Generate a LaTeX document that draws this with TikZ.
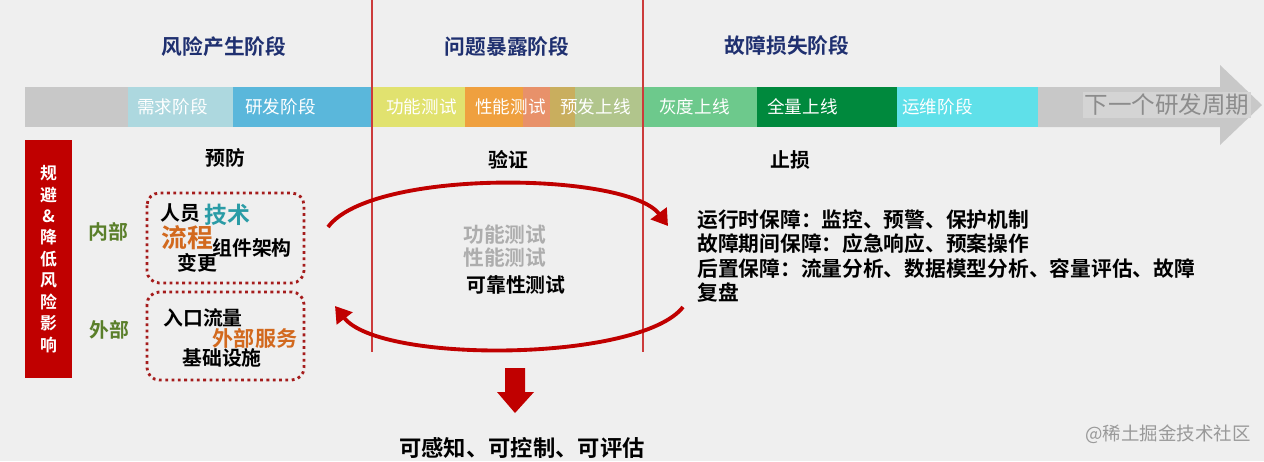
\documentclass[tikz,border=0pt]{standalone}
\usepackage{fontspec}
\setmainfont{Noto Sans CJK SC}[BoldFont={Noto Sans CJK SC Bold}]
\usetikzlibrary{arrows.meta}

\definecolor{bggray}{HTML}{EFEFEF}
\definecolor{bandgray}{HTML}{C8C8C8}
\definecolor{reqblue}{HTML}{ADD8DF}
\definecolor{devblue}{HTML}{5AB7DB}
\definecolor{funcyellow}{HTML}{E1E26F}
\definecolor{perforange}{HTML}{EFA03F}
\definecolor{perfpink}{HTML}{E8916A}
\definecolor{preolive}{HTML}{C9AE5E}
\definecolor{pregreen}{HTML}{B1C58C}
\definecolor{graygreen}{HTML}{6DC98C}
\definecolor{fullgreen}{HTML}{00893D}
\definecolor{opscyan}{HTML}{5FE0E9}
\definecolor{linered}{HTML}{CC3B3B}
\definecolor{barred}{HTML}{C00000}
\definecolor{boxred}{HTML}{A51C1C}
\definecolor{innergreen}{HTML}{5A7F2A}
\definecolor{techteal}{HTML}{2A9CA6}
\definecolor{floworange}{HTML}{D2691E}
\definecolor{phasenavy}{HTML}{1F3070}

\begin{document}
\begin{tikzpicture}[x=0.02cm,y=-0.02cm,
    phase/.style ={font=\fontsize{11.8}{14}\selectfont\bfseries, text=phasenavy},
    stagetext/.style ={font=\fontsize{10}{12}\selectfont, text=white, anchor=west, inner sep=0pt},
    goal/.style ={font=\fontsize{11.3}{13}\selectfont\bfseries},
    side/.style ={font=\fontsize{11.3}{13}\selectfont\bfseries, text=innergreen},
    item/.style ={font=\fontsize{11.3}{13}\selectfont\bfseries, inner sep=0pt},
    riskbox/.style ={draw=boxred, dotted, line width=1.6pt, rounded corners=7pt},
    cyclearrow/.style ={draw=barred, line width=2.2pt, -{Triangle[length=9pt,width=11pt]}}]
   \fill[bggray] (0,0) rectangle (1264,461);
   \useasboundingbox (0,0) rectangle (1264,461);

   \node[phase] (risk) at (224,47) {风险产生阶段};
   \node[phase] (expose) at (507,47) {问题暴露阶段};
   \node[phase] (loss) at (787,46) {故障损失阶段};

   \fill[bandgray] (25,87) rectangle (128,127);
   \fill[reqblue] (128,87) rectangle (233,127);
   \fill[devblue] (233,87) rectangle (372,127);
   \fill[funcyellow] (372,87) rectangle (465,127);
   \fill[perforange] (465,87) rectangle (523,127);
   \fill[perfpink] (523,87) rectangle (550,127);
   \fill[preolive] (550,87) rectangle (575,127);
   \fill[pregreen] (575,87) rectangle (644,127);
   \fill[graygreen] (644,87) rectangle (757,127);
   \fill[fullgreen] (757,87) rectangle (897,127);
   \fill[opscyan] (897,87) rectangle (1038,127);
   \fill[bandgray] (1038,87) -- (1220,87) -- (1220,65) -- (1262,105)
      -- (1220,145) -- (1220,127) -- (1038,127) -- cycle;

   \node[stagetext] (req) at (137,107) {需求阶段};
   \node[stagetext] (dev) at (245,107) {研发阶段};
   \node[stagetext] (func) at (386,107) {功能测试};
   \node[stagetext] (perf) at (475,107) {性能测试};
   \node[stagetext] (pre) at (560,107) {预发上线};
   \node[stagetext] (gray) at (659,107) {灰度上线};
   \node[stagetext] (full) at (767,107) {全量上线};
   \node[stagetext] (ops) at (902,107) {运维阶段};
   \node[fill=black!17, text=black!45, inner sep=1pt,
      font=\fontsize{13.4}{15}\selectfont] (next) at (1167,105) {下一个研发周期};

   \draw[linered, line width=0.6pt] (372,0) -- (372,352);
   \draw[linered, line width=0.6pt] (643,0) -- (643,352);

   \node[goal] (prevent) at (225,158) {预防};
   \node[goal] (verify) at (508,160) {验证};
   \node[goal] (stop) at (790,160) {止损};

   \node[fill=barred, text=white, minimum width=0.94cm, minimum height=4.76cm,
      align=center, font=\fontsize{9.6}{12.2}\selectfont\bfseries] (avoid) at (48.5,259)
      {规\\避\\\&\\降\\低\\风\\险\\影\\响};

   \node[side] (inner) at (108,232) {内部};
   \node[side] (outer) at (109,330) {外部};

   \draw[riskbox] (147,193) rectangle (304,283);
   \draw[riskbox] (147,292) rectangle (304,380);

   \node[item] (staff) at (180,213) {人员};
   \node[item, text=techteal, font=\fontsize{13}{15}\selectfont\bfseries] (tech) at (227,215) {技术};
   \node[item, text=floworange, font=\fontsize{14.7}{16}\selectfont\bfseries] (flow) at (187,238) {流程};
   \node[item] (arch) at (252,248) {组件架构};
   \node[item] (change) at (197,263) {变更};
   \node[item] (entry) at (203,318) {入口流量};
   \node[item, text=floworange, font=\fontsize{12}{14}\selectfont\bfseries] (extsvc) at (255,338) {外部服务};
   \node[item] (infra) at (222,358) {基础设施};

   \node[item, anchor=west, text=black!32, font=\fontsize{11.8}{13}\selectfont\bfseries] (functest) at (463,235) {功能测试};
   \node[item, anchor=west, text=black!32, font=\fontsize{11.8}{13}\selectfont\bfseries] (perftest) at (463,258) {性能测试};
   \node[item, anchor=west] (reltest) at (466,285) {可靠性测试};

   \coordinate (topL) at (328,227);
   \coordinate (topR) at (668,226);
   \coordinate (botR) at (683,307);
   \coordinate (botL) at (335,306);
   \draw[cyclearrow] (topL) .. controls (372,168) and (628,172) .. (topR);
   \draw[cyclearrow] (botR) .. controls (640,362) and (380,364) .. (botL);

   \node[anchor=west, align=left, inner sep=0pt,
      font=\fontsize{11.8}{13.9}\selectfont\bfseries] (guard) at (697,256)
      {运行时保障：监控、预警、保护机制\\故障期间保障：应急响应、预案操作\\
       后置保障：流量分析、数据模型分析、容量评估、故障\\复盘};

   \fill[barred] (505,368) -- (525,368) -- (525,392) -- (534,392) -- (515,413)
      -- (497,392) -- (505,392) -- cycle;
   \node[goal, font=\fontsize{12.7}{14}\selectfont\bfseries] (aware) at (522,448) {可感知、可控制、可评估};

   \node[text=black!40, font=\fontsize{10.5}{12}\selectfont] (mark) at (1168,434) {@稀土掘金技术社区};
 \end{tikzpicture}
\end{document}
